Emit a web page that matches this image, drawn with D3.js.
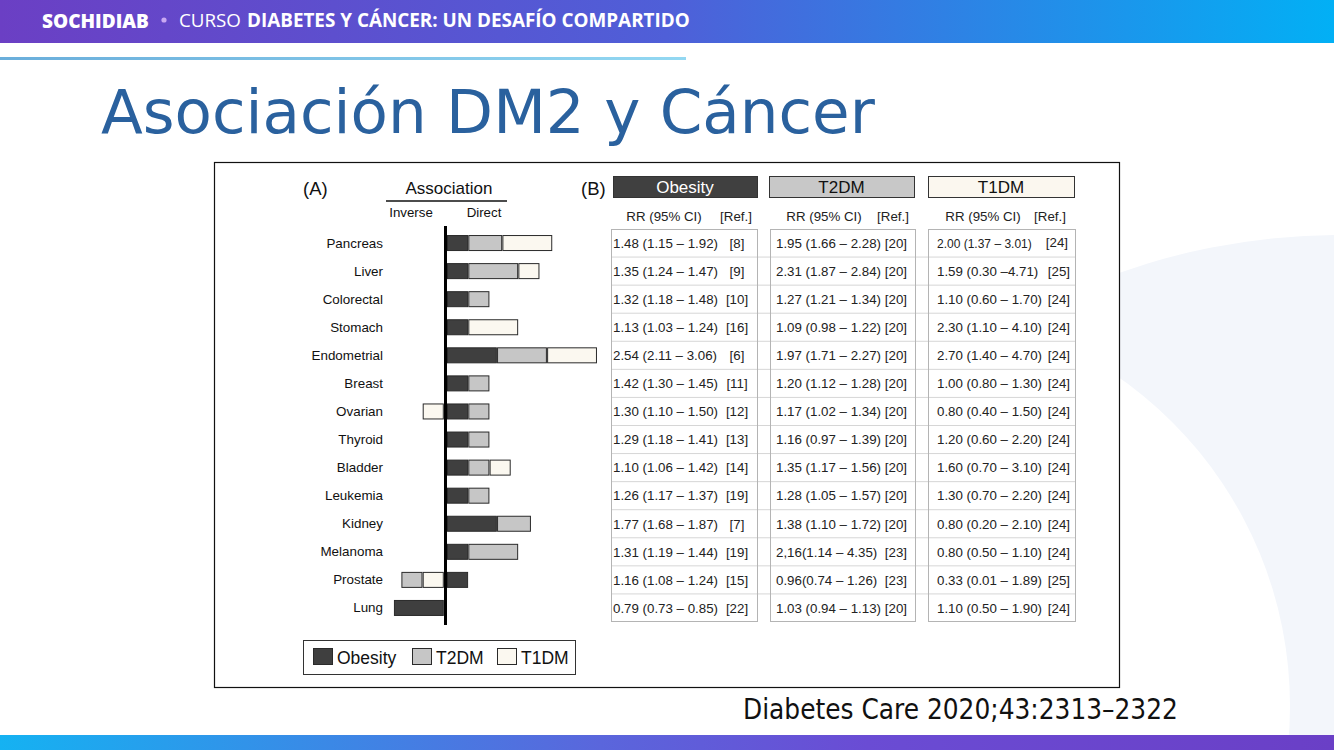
<!DOCTYPE html>
<html><head><meta charset="utf-8">
<script src="https://cdn.jsdelivr.net/npm/d3@7"></script>
<style>html,body{margin:0;padding:0;background:#fff;overflow:hidden}svg{display:block}</style>
</head><body>
<svg id="c" width="1334" height="750"></svg>
<script>
// ---------- DATA ----------
const cancers = ["Pancreas","Liver","Colorectal","Stomach","Endometrial","Breast","Ovarian","Thyroid","Bladder","Leukemia","Kidney","Melanoma","Prostate","Lung"];
const seriesNames = ["Obesity","T2DM","T1DM"];
// association strength (A): + direct, - inverse, 0 none
const obesityAssoc = [1,1,1,1,2.35,1,1,1,1,1,2.35,1,1,-2.35];
const t2dmAssoc    = [1.6,2.35,1,0,2.35,1,1,1,1,1,1.6,2.35,-1,0];
const t1dmAssoc    = [2.35,1,0,2.35,2.35,0,-1,0,1,0,0,0,-1,0];
// table (B)
const obesityRR  = ["1.48 (1.15 – 1.92)","1.35 (1.24 – 1.47)","1.32 (1.18 – 1.48)","1.13 (1.03 – 1.24)","2.54 (2.11 – 3.06)","1.42 (1.30 – 1.45)","1.30 (1.10 – 1.50)","1.29 (1.18 – 1.41)","1.10 (1.06 – 1.42)","1.26 (1.17 – 1.37)","1.77 (1.68 – 1.87)","1.31 (1.19 – 1.44)","1.16 (1.08 – 1.24)","0.79 (0.73 – 0.85)"];
const obesityRef = ["[8]","[9]","[10]","[16]","[6]","[11]","[12]","[13]","[14]","[19]","[7]","[19]","[15]","[22]"];
const t2dmRR  = ["1.95 (1.66 – 2.28)","2.31 (1.87 – 2.84)","1.27 (1.21 – 1.34)","1.09 (0.98 – 1.22)","1.97 (1.71 – 2.27)","1.20 (1.12 – 1.28)","1.17 (1.02 – 1.34)","1.16 (0.97 – 1.39)","1.35 (1.17 – 1.56)","1.28 (1.05 – 1.57)","1.38 (1.10 – 1.72)","2,16(1.14 – 4.35)","0.96(0.74 – 1.26)","1.03 (0.94 – 1.13)"];
const t2dmRef = ["[20]","[20]","[20]","[20]","[20]","[20]","[20]","[20]","[20]","[20]","[20]","[23]","[23]","[20]"];
const t1dmRR  = ["2.00 (1.37 – 3.01)","1.59 (0.30 –4.71)","1.10 (0.60 – 1.70)","2.30 (1.10 – 4.10)","2.70 (1.40 – 4.70)","1.00 (0.80 – 1.30)","0.80 (0.40 – 1.50)","1.20 (0.60 – 2.20)","1.60 (0.70 – 3.10)","1.30 (0.70 – 2.20)","0.80 (0.20 – 2.10)","0.80 (0.50 – 1.10)","0.33 (0.01 – 1.89)","1.10 (0.50 – 1.90)"];
const t1dmRef = ["[24]","[25]","[24]","[24]","[24]","[24]","[24]","[24]","[24]","[24]","[24]","[24]","[25]","[24]"];

// ---------- SETUP ----------
const svg = d3.select("#c");
const defs = svg.append("defs");
function grad(id, stops){
  const g = defs.append("linearGradient").attr("id",id).attr("x1","0").attr("x2","1").attr("y1","0").attr("y2","0");
  stops.forEach(s=>g.append("stop").attr("offset",s[0]).attr("stop-color",s[1]));
}
grad("topG",[[0,"#6b3fc4"],[0.5,"#4f5fd8"],[1,"#02b0f5"]]);
grad("lineG",[[0,"#6aaedb"],[1,"#93d8f2"]]);
grad("botG",[[0,"#15b2f2"],[0.45,"#5a66dc"],[0.65,"#6a4cd4"],[1,"#6a3fc6"]]);

// decorative background crescent
svg.append("circle").attr("cx",1340).attr("cy",900).attr("r",665).attr("fill","#f3f6fb");
svg.append("circle").attr("cx",889).attr("cy",706).attr("r",401).attr("fill","#fff");

function fitText(sel, w){
  const n = sel.node(); const fs = parseFloat(sel.attr("font-size"));
  const cur = n.getComputedTextLength(); if(cur>0) sel.attr("font-size", fs*w/cur);
}

// header
svg.append("rect").attr("x",0).attr("y",0).attr("width",1334).attr("height",43).attr("fill","url(#topG)");
const h1 = svg.append("text").attr("x",42).attr("y",28).attr("font-family","Open Sans").attr("font-weight",800).attr("font-size",17).attr("fill","#fff").text("SOCHIDIAB");
fitText(h1,107);
svg.append("circle").attr("cx",164).attr("cy",20).attr("r",2.6).attr("fill","#c9a8f2");
const h2 = svg.append("text").attr("x",179).attr("y",27).attr("font-family","Open Sans").attr("font-weight",400).attr("font-size",16).attr("fill","#fff").text("CURSO");
fitText(h2,62);
const h3 = svg.append("text").attr("x",247).attr("y",27).attr("font-family","Open Sans").attr("font-weight",700).attr("font-size",16).attr("fill","#fff").text("DIABETES Y CÁNCER: UN DESAFÍO COMPARTIDO");
fitText(h3,443);
svg.append("rect").attr("x",0).attr("y",57).attr("width",686).attr("height",3).attr("fill","url(#lineG)");

// title
const t = svg.append("text").attr("x",101).attr("y",133).attr("font-family","DejaVu Sans").attr("font-size",62).attr("fill","#2a619e").text("Asociación DM2 y Cáncer");
fitText(t,774);

// footer
const f = svg.append("text").attr("x",743).attr("y",719).attr("font-family","DejaVu Sans Condensed, DejaVu Sans").attr("font-size",25).attr("fill","#111").text("Diabetes Care 2020;43:2313–2322");
fitText(f,435);
svg.append("rect").attr("x",0).attr("y",735).attr("width",1334).attr("height",15).attr("fill","url(#botG)");

// chart frame
svg.append("rect").attr("x",214.5).attr("y",162.5).attr("width",905).attr("height",525).attr("fill","#fff").attr("stroke","#111").attr("stroke-width",1.2);

const FF = "Liberation Sans, Arial, Helvetica, sans-serif";
const fills = {Obesity:"#3f3f3f", T2DM:"#c6c6c6", T1DM:"#fbf8f0"};
const y = d3.scaleBand().domain(cancers).range([229,622]);
const yc = c => y(c) + y.bandwidth()/2;

// ---------- PANEL A ----------
const gA = svg.append("g");
gA.append("text").attr("x",303).attr("y",195).attr("font-family",FF).attr("font-size",18.5).attr("fill","#111").text("(A)");
gA.append("text").attr("x",449).attr("y",194).attr("text-anchor","middle").attr("font-family",FF).attr("font-size",17).attr("fill","#111").text("Association");
gA.append("line").attr("x1",386).attr("x2",507).attr("y1",201).attr("y2",201).attr("stroke","#111").attr("stroke-width",1.5);
gA.append("text").attr("x",411).attr("y",217).attr("text-anchor","middle").attr("font-family",FF).attr("font-size",13.3).attr("fill","#111").text("Inverse");
gA.append("text").attr("x",484).attr("y",217).attr("text-anchor","middle").attr("font-family",FF).attr("font-size",13.3).attr("fill","#111").text("Direct");

gA.selectAll("text.lab").data(cancers).join("text").attr("class","lab")
  .attr("x",383).attr("y",d=>yc(d)+4.5).attr("text-anchor","end")
  .attr("font-family",FF).attr("font-size",13.4).attr("fill","#111").text(d=>d);

const axisX = 445.5;
const len = d3.scaleLinear().domain([0,1]).range([0,21.3]);
const assoc = {Obesity:obesityAssoc, T2DM:t2dmAssoc, T1DM:t1dmAssoc};
const segs = [];
cancers.forEach((c,i)=>{
  let pos = axisX+1.5, neg = axisX-1.5;
  ["Obesity","T2DM","T1DM"].forEach(s=>{
    const v = assoc[s][i];
    if(v>0){ const w=len(v); segs.push({c,s,x0:pos,x1:pos+w}); pos+=w; }
  });
  ["T1DM","T2DM","Obesity"].forEach(s=>{
    const v = assoc[s][i];
    if(v<0){ const w=len(-v); segs.push({c,s,x0:neg-w,x1:neg}); neg-=w; }
  });
});
const barH = 15;
gA.selectAll("rect.seg").data(segs).join("rect").attr("class","seg")
  .attr("x",d=>d.x0+0.5).attr("width",d=>d.x1-d.x0-1.2)
  .attr("y",d=>yc(d.c)-barH/2).attr("height",barH)
  .attr("fill",d=>fills[d.s]).attr("stroke","#2a2a2a").attr("stroke-width",1);
gA.append("line").attr("x1",axisX).attr("x2",axisX).attr("y1",226).attr("y2",625).attr("stroke","#000").attr("stroke-width",3);

// legend
const lg = gA.append("g");
lg.append("rect").attr("x",303.5).attr("y",640.5).attr("width",272).attr("height",34).attr("fill","#fff").attr("stroke","#333");
const legX = [313,412,497];
seriesNames.forEach((s,i)=>{
  lg.append("rect").attr("x",legX[i]+0.5).attr("y",648.5).attr("width",19).attr("height",16).attr("fill",fills[s]).attr("stroke","#2a2a2a");
  lg.append("text").attr("x",legX[i]+24).attr("y",663.5).attr("font-family",FF).attr("font-size",17.5).attr("fill","#111").text(s);
});

// ---------- PANEL B ----------
const gB = svg.append("g");
gB.append("text").attr("x",581).attr("y",195).attr("font-family",FF).attr("font-size",18.5).attr("fill","#111").text("(B)");
const tables = [
  {name:"Obesity", rr:obesityRR, ref:obesityRef, x0:611, x1:757, hx0:613, hx1:757, txtX:613, refX:737, refAnchor:"middle", hRR:664, hRef:736, fill:"#404040", tc:"#fff"},
  {name:"T2DM", rr:t2dmRR, ref:t2dmRef, x0:770, x1:915, hx0:769, hx1:914, txtX:776, refX:907, refAnchor:"end", hRR:824, hRef:893, fill:"#c8c8c8", tc:"#111"},
  {name:"T1DM", rr:t1dmRR, ref:t1dmRef, x0:928, x1:1075, hx0:928, hx1:1074, txtX:937, refX:1070, refAnchor:"end", hRR:983, hRef:1050, fill:"#fbf7ef", tc:"#111"}
];
// row separators
gB.selectAll("line.row").data(cancers.slice(1)).join("line").attr("class","row")
  .attr("x1",611).attr("x2",1075).attr("y1",d=>y(d)).attr("y2",d=>y(d))
  .attr("stroke","#d6d6d6").attr("stroke-width",1);
tables.forEach(tb=>{
  gB.append("rect").attr("x",tb.hx0+0.5).attr("y",176.5).attr("width",tb.hx1-tb.hx0).attr("height",21)
    .attr("fill",tb.fill).attr("stroke","#333");
  gB.append("text").attr("x",(tb.hx0+tb.hx1)/2).attr("y",193).attr("text-anchor","middle")
    .attr("font-family",FF).attr("font-size",17).attr("fill",tb.tc).text(tb.name);
  gB.append("text").attr("x",tb.hRR).attr("y",220.5).attr("text-anchor","middle").attr("font-family",FF).attr("font-size",13.3).attr("fill","#222").text("RR (95% CI)");
  gB.append("text").attr("x",tb.hRef).attr("y",220.5).attr("text-anchor","middle").attr("font-family",FF).attr("font-size",13.3).attr("fill","#222").text("[Ref.]");
  gB.append("rect").attr("x",tb.x0+0.5).attr("y",229.5).attr("width",tb.x1-tb.x0).attr("height",392)
    .attr("fill","none").attr("stroke","#b4b4b4");
  gB.selectAll(null).data(cancers).join("text")
    .attr("x",tb.txtX).attr("y",d=>yc(d)+4.8)
    .attr("font-family",FF).attr("font-size",(d,i)=>(tb.name==="T1DM"&&i===0)?12:13.3).attr("fill","#222")
    .text((d,i)=>tb.rr[i]);
  gB.selectAll(null).data(cancers).join("text")
    .attr("x",(d,i)=>(tb.name==="T1DM"&&i===0)?1068:tb.refX).attr("y",(d,i)=>yc(d)+((tb.name==="T1DM"&&i===0)?3.5:4.8))
    .attr("text-anchor",tb.refAnchor)
    .attr("font-family",FF).attr("font-size",13.3).attr("fill","#222")
    .text((d,i)=>tb.ref[i]);
});
</script>
</body></html>
